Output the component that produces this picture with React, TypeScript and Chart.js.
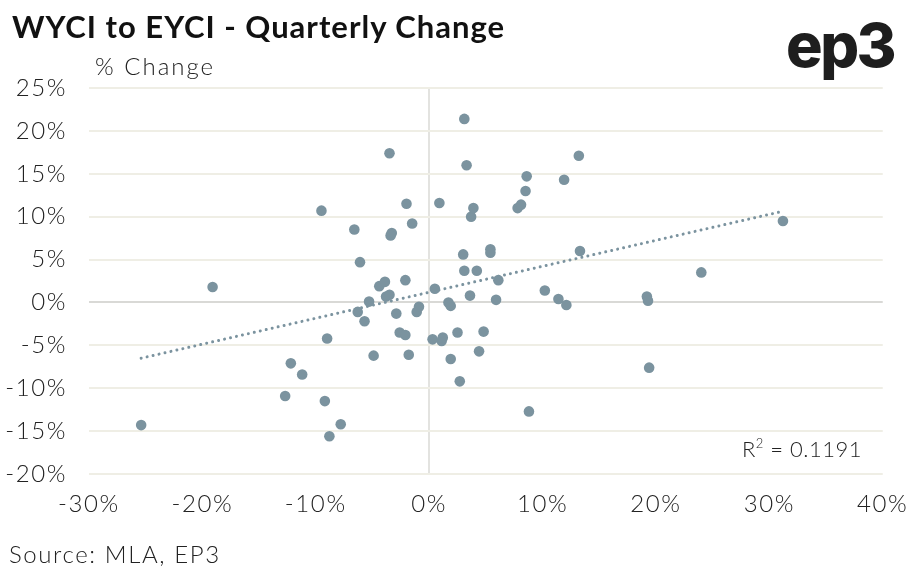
import { useEffect, useRef } from "react";
import { Chart, registerables } from "chart.js";

Chart.register(...registerables);

// Quarterly % change — x: EYCI, y: WYCI
const eyciChange = [
  -25.4, -19.1, -12.7, -12.2, -11.2, -9.5, -9.2, -9.0, -8.8, -7.8,
  -6.6, -6.3, -6.1, -5.7, -5.3, -4.9, -4.4, -3.9, -3.8, -3.5,
  -3.5, -3.3, -3.4, -2.9, -2.6, -2.1, -2.1, -2.0, -1.8, -1.5,
  -1.1, -0.9, 0.3, 0.5, 0.9, 1.1, 1.2, 1.7, 1.9, 1.9,
  2.5, 2.7, 3.0, 3.1, 3.1, 3.3, 3.6, 3.7, 3.9, 4.2,
  4.4, 4.8, 5.4, 5.4, 5.9, 6.1, 7.8, 8.1, 8.5, 8.6,
  8.8, 10.2, 11.4, 11.9, 12.1, 13.2, 13.3, 19.2, 19.3, 19.4,
  24.0, 31.2,
];
const wyciChange = [
  -14.3, 1.8, -10.9, -7.1, -8.4, 10.7, -11.5, -4.2, -15.6, -14.2,
  8.5, -1.1, 4.7, -2.2, 0.1, -6.2, 1.9, 2.4, 0.7, 0.9,
  17.4, 8.1, 7.8, -1.3, -3.5, -3.8, 2.6, 11.5, -6.1, 9.2,
  -1.1, -0.5, -4.3, 1.6, 11.6, -4.5, -4.1, 0.0, -0.4, -6.6,
  -3.5, -9.2, 5.6, 3.7, 21.4, 16.0, 0.8, 10.0, 11.0, 3.7,
  -5.7, -3.4, 6.2, 5.8, 0.3, 2.6, 11.0, 11.4, 13.0, 14.7,
  -12.7, 1.4, 0.4, 14.3, -0.3, 17.1, 6.0, 0.7, 0.2, -7.6,
  3.5, 9.5,
];

// Linear trend line end points
const trendX = [-25.4, 31.1];
const trendY = [-6.5, 10.6];

const xMin = -30;
const xMax = 40;
const xStep = 10;
const yMin = -20;
const yMax = 25;
const yStep = 5;

const titleText = "WYCI to EYCI - Quarterly Change";
const yAxisTitle = "% Change";
const sourceText = "Source: MLA, EP3";
const rSquaredText = "0.1191";

const POINT_COLOR = "#7b939f";
const TEXT_COLOR = "#222222";
const FONT = "Lato, 'Open Sans', sans-serif";

const letterSpacingPlugin = {
  id: "letterSpacing",
  beforeDraw(chart: any) {
    try {
      chart.ctx.letterSpacing = "1.6px";
    } catch (e) {
      /* ignore */
    }
  },
};

export default function App() {
  const canvasRef = useRef<HTMLCanvasElement | null>(null);

  useEffect(() => {
    if (!canvasRef.current) return;
    const points = eyciChange.map((x, i) => ({ x, y: wyciChange[i] }));
    const trend = trendX.map((x, i) => ({ x, y: trendY[i] }));

    const chart = new Chart(canvasRef.current, {
      type: "scatter",
      data: {
        datasets: [
          {
            label: "Quarterly change",
            data: points,
            backgroundColor: POINT_COLOR,
            borderWidth: 0,
            pointRadius: 5.3,
            pointHoverRadius: 5.3,
          },
          {
            label: "Trend",
            data: trend,
            showLine: true,
            borderColor: POINT_COLOR,
            borderWidth: 3,
            borderDash: [0.01, 6.1],
            borderCapStyle: "round",
            pointRadius: 0,
            pointHoverRadius: 0,
            fill: false,
          } as any,
        ],
      },
      plugins: [letterSpacingPlugin],
      options: {
        responsive: false,
        animation: false,
        events: [],
        layout: { padding: { top: 88, right: 39, left: 0, bottom: 0 } },
        plugins: {
          legend: { display: false },
          tooltip: { enabled: false },
          title: { display: false },
        },
        scales: {
          x: {
            type: "linear",
            min: xMin,
            max: xMax,
            border: { display: false },
            grid: {
              drawTicks: false,
              lineWidth: 2,
              color: (ctx: any) =>
                ctx.tick && ctx.tick.value === 0 ? "#e3e3e0" : "rgba(0,0,0,0)",
            },
            ticks: {
              stepSize: xStep,
              padding: 16,
              color: TEXT_COLOR,
              font: { family: FONT, size: 24, weight: 300 as any },
              callback: (v: any) => `${v}%`,
            },
            afterFit: (axis: any) => {
              axis.height = 105;
            },
          },
          y: {
            type: "linear",
            min: yMin,
            max: yMax,
            border: { display: false },
            grid: {
              drawTicks: false,
              lineWidth: 2,
              color: (ctx: any) =>
                ctx.tick && ctx.tick.value === 0 ? "#d9d9d6" : "#efeee5",
            },
            ticks: {
              stepSize: yStep,
              padding: 22,
              color: TEXT_COLOR,
              font: { family: FONT, size: 24, weight: 300 as any },
              callback: (v: any) => `${v}%`,
            },
            afterFit: (axis: any) => {
              axis.width = 89;
            },
          },
        },
      },
    });
    return () => chart.destroy();
  }, []);

  const base: React.CSSProperties = {
    position: "absolute",
    fontFamily: FONT,
    color: TEXT_COLOR,
    whiteSpace: "nowrap",
    margin: 0,
  };

  return (
    <div
      style={{
        position: "absolute",
        left: 0,
        top: 0,
        width: 922,
        height: 579,
        background: "#ffffff",
        overflow: "hidden",
      }}
    >
      <canvas
        ref={canvasRef}
        width={922}
        height={579}
        style={{ display: "block", width: 922, height: 579 }}
      />
      <div
        style={{
          ...base,
          left: 12,
          top: 8,
          fontSize: 31,
          lineHeight: "37px",
          fontWeight: 700,
          letterSpacing: 1,
          color: "#111111",
        }}
      >
        {titleText}
      </div>
      <div
        style={{
          ...base,
          left: 786,
          top: 8,
          fontFamily: "Inter, sans-serif",
          fontSize: 61,
          lineHeight: "74px",
          fontWeight: 800,
          letterSpacing: -2.5,
          color: "#1e1e1e",
        }}
      >
        ep3
      </div>
      <div
        style={{
          ...base,
          left: 95,
          top: 51,
          fontSize: 24,
          lineHeight: "29px",
          fontWeight: 300,
          letterSpacing: 2,
        }}
      >
        {yAxisTitle}
      </div>
      <div
        style={{
          ...base,
          right: 60,
          top: 436,
          fontSize: 22,
          lineHeight: "26px",
          fontWeight: 300,
          letterSpacing: 0.5,
        }}
      >
        R<sup style={{ fontSize: 13, verticalAlign: 0, position: "relative", top: -9 }}>2</sup> = {rSquaredText}
      </div>
      <div
        style={{
          ...base,
          left: 9,
          top: 539,
          fontSize: 24,
          lineHeight: "29px",
          fontWeight: 300,
          letterSpacing: 1.6,
        }}
      >
        {sourceText}
      </div>
    </div>
  );
}
